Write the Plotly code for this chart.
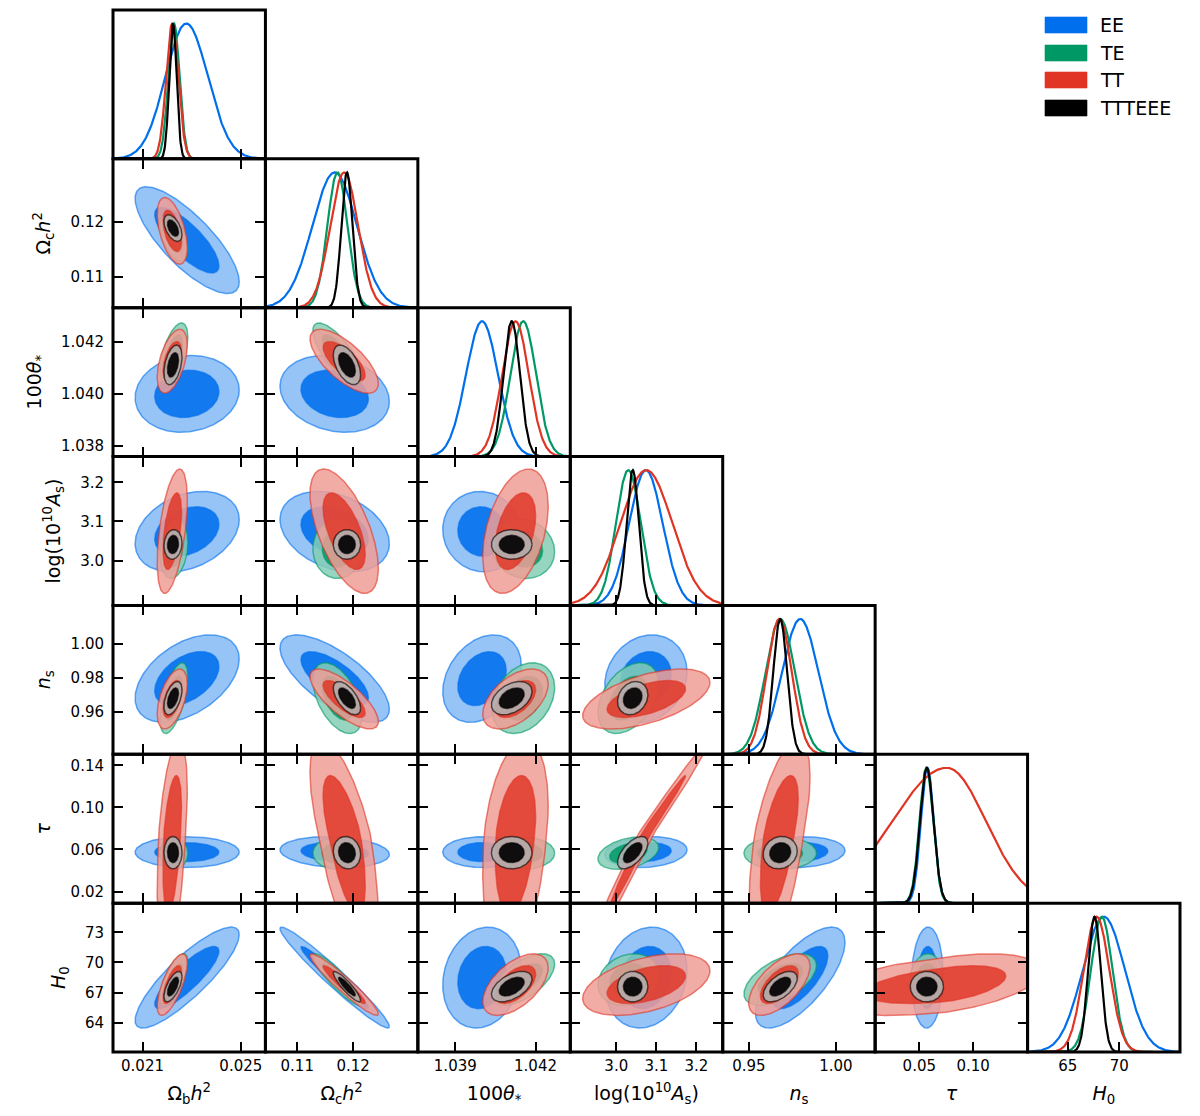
import numpy as np
import plotly.graph_objects as go

# ---------------- data ----------------
PARAM_LABELS = ["Ω<sub>b</sub><i>h</i><sup>2</sup>", "Ω<sub>c</sub><i>h</i><sup>2</sup>",
                "100<i>θ</i><sub>*</sub>", "log(10<sup>10</sup><i>A</i><sub>s</sub>)",
                "<i>n</i><sub>s</sub>", "<i>τ</i>", "<i>H</i><sub>0</sub>"]
DATASETS = ["EE", "TE", "TT", "TTTEEE"]
COLORS = ["#006FED", "#009966", "#E03424", "#000000"]

# order: Ωbh2, Ωch2, 100θ*, log(1e10 As), ns, tau, H0
MEAN_EE = [0.02278, 0.1167, 1.04000, 3.074, 0.9795, 0.0575, 68.5]
MEAN_TE = [0.02228, 0.1172, 1.04154, 3.030, 0.9680, 0.0565, 68.3]
MEAN_TT = [0.02221, 0.1184, 1.04125, 3.075, 0.9675, 0.0755, 67.8]
MEAN_TTTEEE = [0.02224, 0.1189, 1.04111, 3.041, 0.9680, 0.0570, 67.6]

SIGLO_EE = [0.00085, 0.0040, 0.00060, 0.042, 0.0105, 0.0060, 2.05]
SIGHI_EE = [0.00088, 0.0040, 0.00060, 0.042, 0.0105, 0.0060, 2.05]
SIGLO_TE = [0.00023, 0.0018, 0.00048, 0.031, 0.0085, 0.0063, 1.05]
SIGHI_TE = [0.00023, 0.0018, 0.00048, 0.031, 0.0085, 0.0063, 1.05]
SIGLO_TT = [0.00025, 0.0025, 0.00050, 0.065, 0.0072, 0.0505, 1.25]
SIGHI_TT = [0.00025, 0.0025, 0.00050, 0.065, 0.0072, 0.0363, 1.25]
SIGLO_TTTEEE = [0.00015, 0.0010, 0.00031, 0.0155, 0.0040, 0.0063, 0.62]
SIGHI_TTTEEE = [0.00015, 0.0010, 0.00031, 0.0155, 0.0040, 0.0063, 0.62]

# lower-triangle correlation coefficients (row i, columns 0..i-1)
CORR_EE = [[], [-0.78], [0.10, -0.20], [0.30, -0.30, -0.05],
           [0.45, -0.70, 0.30, 0.15], [0.00, -0.15, 0.00, 0.15, 0.10],
           [0.85, -0.97, 0.15, 0.15, 0.70, 0.05]]
CORR_TE = [[], [-0.50], [0.55, -0.75], [0.20, 0.00, -0.10],
           [0.60, -0.50, 0.30, 0.40], [0.00, 0.00, 0.00, 0.35, 0.00],
           [0.70, -0.90, 0.60, 0.20, 0.55, 0.10]]
CORR_TT = [[], [-0.50], [0.50, -0.70], [0.50, -0.60, 0.40],
           [0.50, -0.75, 0.50, 0.55], [0.45, -0.65, 0.30, 0.993, 0.60],
           [0.70, -0.95, 0.55, 0.45, 0.60, 0.45]]
CORR_TTTEEE = [[], [-0.50], [0.40, -0.50], [0.10, 0.00, 0.00],
               [0.50, -0.60, 0.40, 0.20], [0.00, -0.10, 0.00, 0.60, 0.10],
               [0.65, -0.90, 0.50, 0.00, 0.55, 0.00]]

RANGES = [[0.0198, 0.0260], [0.1043, 0.1316], [1.0376, 1.0433], [2.885, 3.266],
          [0.935, 1.0225], [0.009, 0.1505], [61.1, 75.9]]
XTICKS = [[0.021, 0.025], [0.11, 0.12], [1.039, 1.042], [3.0, 3.1, 3.2],
          [0.95, 1.00], [0.05, 0.10], [65, 70]]
XTICKTEXT = [["0.021", "0.025"], ["0.11", "0.12"], ["1.039", "1.042"], ["3.0", "3.1", "3.2"],
             ["0.95", "1.00"], ["0.05", "0.10"], ["65", "70"]]
YTICKS = [[], [0.11, 0.12], [1.038, 1.040, 1.042], [3.0, 3.1, 3.2],
          [0.96, 0.98, 1.00], [0.02, 0.06, 0.10, 0.14], [64, 67, 70, 73]]
YTICKTEXT = [[], ["0.11", "0.12"], ["1.038", "1.040", "1.042"], ["3.0", "3.1", "3.2"],
             ["0.96", "0.98", "1.00"], ["0.02", "0.06", "0.10", "0.14"], ["64", "67", "70", "73"]]

MEANS = [MEAN_EE, MEAN_TE, MEAN_TT, MEAN_TTTEEE]
SIGLO = [SIGLO_EE, SIGLO_TE, SIGLO_TT, SIGLO_TTTEEE]
SIGHI = [SIGHI_EE, SIGHI_TE, SIGHI_TT, SIGHI_TTTEEE]
CORRS = [CORR_EE, CORR_TE, CORR_TT, CORR_TTTEEE]

# ---------------- style ----------------
OFF = 8                      # page body margin of the browser
W, H = 1192, 1108
ML, MR, MT, MB = 105, 20, 2, 64
N = 7
FONT = "DejaVu Sans"
OUTER_LIGHTEN = [0.52, 0.52, 0.52, 0.70]
OUTER_ALPHA = [0.85, 0.85, 0.85, 0.9]
INNER_ALPHA = [0.88, 0.85, 0.82, 0.92]
R68 = np.sqrt(-2 * np.log(0.32))
R95 = np.sqrt(-2 * np.log(0.05))


def hex_rgb(h):
    h = h.lstrip("#")
    return [int(h[i:i + 2], 16) for i in (0, 2, 4)]


def rgba(h, a, lighten=0.0):
    r, g, b = hex_rgb(h)
    r, g, b = [int(round(c + (255 - c) * lighten)) for c in (r, g, b)]
    return f"rgba({r},{g},{b},{a})"


def ellipse(d, jx, iy, r, n=200):
    t = np.linspace(0, 2 * np.pi, n)
    rho = CORRS[d][iy][jx]
    z1 = r * np.cos(t)
    z2 = r * (rho * np.cos(t) + np.sqrt(1 - rho ** 2) * np.sin(t))
    x = MEANS[d][jx] + np.where(z1 < 0, SIGLO[d][jx], SIGHI[d][jx]) * z1
    y = MEANS[d][iy] + np.where(z2 < 0, SIGLO[d][iy], SIGHI[d][iy]) * z2
    return x, y


fig = go.Figure()
layout = {}
shapes, annotations = [], []
k = 0
for i in range(N):
    for j in range(i + 1):
        k += 1
        xs = "" if k == 1 else str(k)
        xref, yref = "x" + xs, "y" + xs
        common = dict(showline=False, showgrid=False,
                      zeroline=False, ticks="inside", ticklen=10, tickwidth=2.4,
                      tickcolor="black", tickfont=dict(family=FONT, size=15, color="black"))
        xa = dict(common, domain=[j / N, (j + 1) / N], anchor=yref, range=RANGES[j],
                  tickmode="array", tickvals=XTICKS[j], ticktext=XTICKTEXT[j],
                  showticklabels=(i == N - 1), ticklabelstandoff=3)
        if i == N - 1:
            xa["title"] = dict(text=PARAM_LABELS[j], font=dict(family=FONT, size=19, color="black"),
                               standoff=12)
        ya = dict(common, domain=[1 - (i + 1) / N, 1 - i / N], anchor=xref, ticklabelstandoff=8)
        if i == j:
            xa["mirror"] = False
            ya.update(range=[0, 1.1], mirror=False, ticks="", showticklabels=False)
            xg = np.linspace(RANGES[j][0], RANGES[j][1], 400)
            for d in range(len(DATASETS)):
                mu = MEANS[d][j]
                s = np.where(xg < mu, SIGLO[d][j], SIGHI[d][j])
                fig.add_trace(go.Scatter(x=xg, y=np.exp(-0.5 * ((xg - mu) / s) ** 2),
                                         mode="lines", line=dict(color=COLORS[d], width=2.2),
                                         xaxis=xref, yaxis=yref, showlegend=False,
                                         hoverinfo="skip"))
        else:
            xa["mirror"] = "ticks"
            ya.update(range=RANGES[i], mirror="ticks", tickmode="array",
                      tickvals=YTICKS[i], ticktext=YTICKTEXT[i], showticklabels=(j == 0))
            if j == 0:
                ya["title"] = dict(text=PARAM_LABELS[i],
                                   font=dict(family=FONT, size=19, color="black"), standoff=14)
            for d in range(len(DATASETS)):
                c = COLORS[d]
                for r, fc in ((R95, rgba(c, OUTER_ALPHA[d], OUTER_LIGHTEN[d])),
                              (R68, rgba(c, INNER_ALPHA[d]))):
                    x, y = ellipse(d, j, i, r)
                    fig.add_trace(go.Scatter(x=x, y=y, mode="lines", fill="toself",
                                             fillcolor=fc, line=dict(color=rgba(c, 0.6), width=1.5),
                                             xaxis=xref, yaxis=yref, showlegend=False,
                                             hoverinfo="skip"))
        layout["xaxis" + xs] = xa
        layout["yaxis" + xs] = ya
        # panel frame, centred on the panel edges
        shapes.append(dict(type="rect", xref=xref + " domain", yref=yref + " domain",
                           x0=0, x1=1, y0=0, y1=1, layer="above",
                           line=dict(color="black", width=3), fillcolor="rgba(0,0,0,0)"))

# legend (swatches + labels) in paper coordinates; positions given in page pixels
PW, PH = W - ML - MR, H - MT - MB


def px_x(p):
    return (p - OFF - ML) / PW


def px_y(p):
    return 1 - (p - OFF - MT) / PH


LEG_Y = [25, 53, 80, 108]
for d, name in enumerate(DATASETS):
    yc = LEG_Y[d]
    shapes.append(dict(type="rect", xref="paper", yref="paper", x0=px_x(1045), x1=px_x(1087),
                       y0=px_y(yc + 8), y1=px_y(yc - 8), fillcolor=COLORS[d],
                       line=dict(color=rgba(COLORS[d], 0.6), width=1)))
    annotations.append(dict(xref="paper", yref="paper", x=px_x(1098), y=px_y(yc), text=name,
                            showarrow=False, xanchor="left", yanchor="middle",
                            font=dict(family=FONT, size=19, color="black")))

fig.update_layout(width=W, height=H, margin=dict(l=ML, r=MR, t=MT, b=MB),
                  plot_bgcolor="white", paper_bgcolor="white", showlegend=False,
                  shapes=shapes, annotations=annotations, **layout)
fig.write_html("out.html")
